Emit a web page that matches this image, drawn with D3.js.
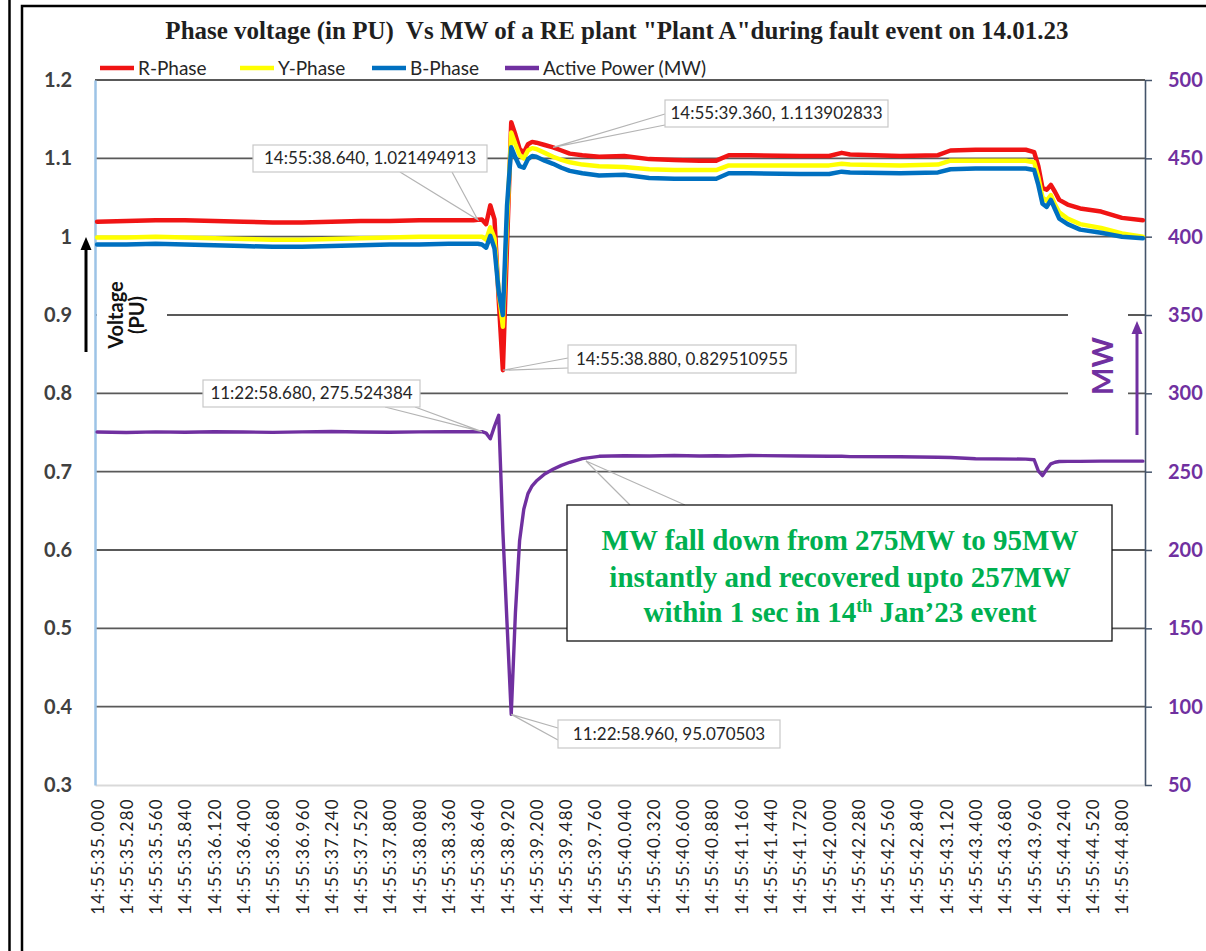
<!DOCTYPE html>
<html>
<head>
<meta charset="utf-8">
<script src="https://cdn.jsdelivr.net/npm/d3@7"></script>
<style>
  body { margin: 0; background: #fff; }
  svg { display: block; }
</style>
</head>
<body>
<svg id="chart" width="1206" height="951"></svg>
<script>
// ---- data: seconds past 14:55:00 and the four recorded traces ----
const timeSec = [35.00, 35.28, 35.56, 35.84, 36.12, 36.40, 36.68, 36.96, 37.24, 37.52, 37.80, 38.08, 38.36, 38.60,
  38.64, 38.68, 38.72, 38.76, 38.80, 38.84, 38.88, 38.92, 38.96, 39.00, 39.04, 39.08, 39.12, 39.16, 39.20, 39.28,
  39.36, 39.44, 39.52, 39.64, 39.80, 40.04, 40.28, 40.52, 40.76, 40.92, 41.04, 41.24, 41.72, 42.00, 42.12, 42.20,
  42.68, 43.04, 43.16, 43.40, 43.88, 43.96, 44.00, 44.04, 44.08, 44.12, 44.16, 44.20, 44.28, 44.40, 44.60, 44.80, 45.00];

const rPhase = [1.019, 1.020, 1.021, 1.021, 1.020, 1.019, 1.018, 1.018, 1.019, 1.020, 1.020, 1.021, 1.021, 1.021,
  1.021494913, 1.022, 1.016, 1.040, 1.022, 0.920, 0.829510955, 0.990, 1.146, 1.130, 1.112, 1.107, 1.118, 1.121, 1.120, 1.117,
  1.113902833, 1.110, 1.106, 1.104, 1.102, 1.103, 1.099, 1.098, 1.097, 1.097, 1.104, 1.104, 1.103, 1.103, 1.107, 1.105,
  1.103, 1.104, 1.110, 1.111, 1.111, 1.108, 1.090, 1.062, 1.060, 1.066, 1.057, 1.047, 1.041, 1.036, 1.032, 1.024, 1.021];

const yPhase = [0.999, 0.999, 1.000, 0.999, 0.998, 0.997, 0.996, 0.996, 0.997, 0.998, 0.999, 1.000, 1.000, 1.000,
  1.000, 1.000, 0.996, 1.012, 0.998, 0.930, 0.885, 1.020, 1.133, 1.118, 1.104, 1.100, 1.110, 1.113, 1.112, 1.107,
  1.102, 1.098, 1.095, 1.092, 1.090, 1.089, 1.086, 1.085, 1.085, 1.085, 1.091, 1.091, 1.091, 1.091, 1.093, 1.092,
  1.091, 1.092, 1.097, 1.097, 1.097, 1.095, 1.076, 1.050, 1.046, 1.053, 1.041, 1.031, 1.023, 1.016, 1.011, 1.004, 1.000];

const bPhase = [0.990, 0.990, 0.991, 0.990, 0.989, 0.988, 0.987, 0.987, 0.988, 0.989, 0.990, 0.990, 0.991, 0.991,
  0.991, 0.990, 0.986, 1.001, 0.985, 0.930, 0.900, 1.040, 1.114, 1.101, 1.090, 1.088, 1.099, 1.103, 1.102, 1.097,
  1.093, 1.088, 1.084, 1.081, 1.078, 1.079, 1.075, 1.074, 1.074, 1.074, 1.081, 1.081, 1.080, 1.080, 1.083, 1.082,
  1.081, 1.082, 1.086, 1.087, 1.087, 1.085, 1.066, 1.042, 1.038, 1.047, 1.035, 1.023, 1.016, 1.009, 1.005, 1.000, 0.998];

const activeMW = [275.3, 275.0, 275.4, 275.2, 275.5, 275.3, 275.1, 275.4, 275.6, 275.3, 275.2, 275.4, 275.5, 275.5,
  275.5, 275.524384, 274.6, 271.0, 279.0, 286.0, 212.0, 153.0, 95.070503, 160.0, 206.0, 226.0, 236.0, 241.0, 244.0, 248.5,
  251.5, 254.0, 256.0, 258.3, 259.8, 260.2, 260.0, 260.3, 260.0, 260.2, 260.0, 260.3, 260.0, 259.8, 259.8, 259.6,
  259.5, 259.2, 259.0, 258.2, 258.0, 257.6, 250.5, 247.5, 251.5, 255.0, 256.0, 256.5, 256.6, 256.6, 256.7, 256.7, 256.7];

const voltTicks = [0.3, 0.4, 0.5, 0.6, 0.7, 0.8, 0.9, 1.0, 1.1, 1.2];
const mwTicks = [50, 100, 150, 200, 250, 300, 350, 400, 450, 500];
const timeLabels = ["14:55:35.000", "14:55:35.280", "14:55:35.560", "14:55:35.840", "14:55:36.120", "14:55:36.400",
  "14:55:36.680", "14:55:36.960", "14:55:37.240", "14:55:37.520", "14:55:37.800", "14:55:38.080", "14:55:38.360",
  "14:55:38.640", "14:55:38.920", "14:55:39.200", "14:55:39.480", "14:55:39.760", "14:55:40.040", "14:55:40.320",
  "14:55:40.600", "14:55:40.880", "14:55:41.160", "14:55:41.440", "14:55:41.720", "14:55:42.000", "14:55:42.280",
  "14:55:42.560", "14:55:42.840", "14:55:43.120", "14:55:43.400", "14:55:43.680", "14:55:43.960", "14:55:44.240",
  "14:55:44.520", "14:55:44.800"];

const seriesNames = ["R-Phase", "Y-Phase", "B-Phase", "Active Power (MW)"];

// value callouts: recorder clock stamp + the traced point they refer to
const calloutClock = ["14:55:38.640", "14:55:39.360", "14:55:38.880", "11:22:58.680", "11:22:58.960"];
const calloutSeries = ["R", "R", "R", "MW", "MW"];
const calloutTime = [38.64, 39.36, 38.88, 38.68, 38.96];

const titleText = "Phase voltage (in PU)  Vs MW of a RE plant \"Plant A\"during fault event on 14.01.23";

// ---- layout ----
const plot = { left: 95, right: 1145, top: 80, bottom: 785 };
const colors = { R: "#F01414", Y: "#FFFF00", B: "#0070C0", MW: "#7030A0" };
const calloutBoxes = [
  { x: 253, y: 145, w: 234, h: 27, base: [[400, 172], [452, 172]] },
  { x: 665, y: 100, w: 223, h: 27, base: [[665, 114], [665, 125]] },
  { x: 568, y: 345, w: 228, h: 28, base: [[568, 358], [568, 368]] },
  { x: 203, y: 380, w: 217, h: 27, base: [[385, 407], [415, 407]] },
  { x: 558, y: 720, w: 222, h: 28, base: [[558, 728], [558, 740]] }
];
const legendX = [100, 240, 372, 505];

const svg = d3.select("#chart");
svg.append("rect").attr("width", 1206).attr("height", 951).attr("fill", "#fff");

const x = d3.scaleLinear().domain([34.98, 45.02]).range([plot.left, plot.right]);
const yV = d3.scaleLinear().domain([0.3, 1.2]).range([plot.bottom, plot.top]);
const yMW = d3.scaleLinear().domain([50, 500]).range([plot.bottom, plot.top]);

// page frame
svg.append("line").attr("x1", 9.5).attr("x2", 9.5).attr("y1", 0).attr("y2", 951)
  .attr("stroke", "#000").attr("stroke-width", 2.5);
svg.append("path").attr("d", "M22,951 V6 H1206").attr("fill", "none")
  .attr("stroke", "#000").attr("stroke-width", 2.5);

// title
svg.append("text").attr("x", 617).attr("y", 39).attr("text-anchor", "middle")
  .style("white-space", "pre")
  .attr("font-family", "'Liberation Serif', 'Times New Roman', serif").attr("font-weight", "bold")
  .attr("font-size", 25).attr("fill", "#1f1f1f").text(titleText);

// legend
const legendColors = [colors.R, colors.Y, colors.B, colors.MW];
seriesNames.forEach((name, i) => {
  const g = svg.append("g").attr("transform", `translate(${legendX[i]},68)`);
  g.append("line").attr("x1", 0).attr("x2", 34).attr("stroke", legendColors[i]).attr("stroke-width", 4.5);
  g.append("text").attr("x", 38).attr("dy", "0.35em").attr("font-family", "Lato, sans-serif")
    .attr("font-size", 19).attr("fill", "#262626").text(name);
});

// horizontal gridlines
svg.append("g").selectAll("line").data(voltTicks.filter(v => v > 0.3)).join("line")
  .attr("x1", plot.left).attr("x2", plot.right)
  .attr("y1", d => yV(d)).attr("y2", d => yV(d))
  .attr("stroke", "#595959").attr("stroke-width", 1.8);

// white panels behind the axis titles
svg.append("rect").attr("x", 97).attr("y", 270).attr("width", 70).attr("height", 90).attr("fill", "#fff");
svg.append("rect").attr("x", 1068).attr("y", 300).attr("width", 60).attr("height", 145).attr("fill", "#fff");

// x axis
const xAxis = svg.append("g").attr("transform", `translate(0,${plot.bottom})`)
  .call(d3.axisBottom(x).tickValues(timeLabels.map(s => +s.slice(6))).tickSize(0)
    .tickFormat((d, i) => timeLabels[i]));
xAxis.select(".domain").attr("stroke", "#d9d9d9").attr("stroke-width", 2);
xAxis.selectAll("text")
  .attr("transform", "rotate(-90)").attr("x", -13).attr("y", 0).attr("dy", "0.35em")
  .attr("text-anchor", "end").attr("font-family", "Lato, sans-serif").attr("font-size", 17)
  .attr("letter-spacing", 1.3).attr("fill", "#1f1f1f");

// left (voltage) axis
const leftAxis = svg.append("g").attr("transform", `translate(${plot.left},0)`)
  .call(d3.axisLeft(yV).tickValues(voltTicks).tickSize(0).tickPadding(23).tickFormat(d3.format("~g")));
leftAxis.select(".domain").attr("stroke", "#9DC3E6").attr("stroke-width", 2.5);
leftAxis.selectAll("text").attr("font-family", "Lato, sans-serif").attr("font-weight", "bold")
  .attr("font-size", 20).attr("fill", "#404040");

// right (MW) axis
const rightAxis = svg.append("g").attr("transform", `translate(${plot.right},0)`)
  .call(d3.axisRight(yMW).tickValues(mwTicks).tickSize(7).tickSizeOuter(0).tickPadding(16));
rightAxis.select(".domain").attr("stroke", "#44546A").attr("stroke-width", 1.6);
rightAxis.selectAll(".tick line").attr("stroke", "#44546A").attr("stroke-width", 1.5);
rightAxis.selectAll("text").attr("font-family", "Lato, sans-serif").attr("font-weight", "bold")
  .attr("font-size", 20).attr("fill", "#7030A0");

// traces
const vLine = d3.line().x((d, i) => x(timeSec[i])).y(d => yV(d));
const mwLine = d3.line().x((d, i) => x(timeSec[i])).y(d => yMW(d));
const traces = [
  { data: rPhase, gen: vLine, color: colors.R, w: 4.5 },
  { data: yPhase, gen: vLine, color: colors.Y, w: 4.5 },
  { data: bPhase, gen: vLine, color: colors.B, w: 4.5 },
  { data: activeMW, gen: mwLine, color: colors.MW, w: 3.4 }
];
traces.forEach(s => {
  svg.append("path").attr("d", s.gen(s.data)).attr("fill", "none")
    .attr("stroke", s.color).attr("stroke-width", s.w)
    .attr("stroke-linejoin", "round").attr("stroke-linecap", "round");
});

// value callouts
const seriesData = { R: rPhase, MW: activeMW };
const seriesScale = { R: yV, MW: yMW };
calloutClock.forEach((clock, i) => {
  const key = calloutSeries[i];
  const idx = timeSec.indexOf(calloutTime[i]);
  const value = seriesData[key][idx];
  const tip = [x(calloutTime[i]), seriesScale[key](value)];
  const box = calloutBoxes[i];
  svg.append("path")
    .attr("d", `M${box.base[0][0]},${box.base[0][1]} L${tip[0]},${tip[1]} L${box.base[1][0]},${box.base[1][1]}`)
    .attr("fill", "none").attr("stroke", "#b4b4b4").attr("stroke-width", 1.2);
  svg.append("rect").attr("x", box.x).attr("y", box.y).attr("width", box.w).attr("height", box.h)
    .attr("fill", "#fff").attr("stroke", "#c8c8c8").attr("stroke-width", 1.2);
  svg.append("text").attr("x", box.x + box.w / 2).attr("y", box.y + box.h / 2).attr("dy", "0.35em")
    .attr("text-anchor", "middle").attr("font-family", "Lato, sans-serif").attr("font-size", 17)
    .attr("fill", "#262626").text(`${clock}, ${value}`);
});

// summary note with its pointer to the recovered MW level
svg.append("path").attr("d", "M630,505 L586,461 L685,505").attr("fill", "none")
  .attr("stroke", "#b4b4b4").attr("stroke-width", 1.2);
svg.append("rect").attr("x", 567).attr("y", 505).attr("width", 545).attr("height", 136)
  .attr("fill", "#fff").attr("stroke", "#111").attr("stroke-width", 1.3);
const note = svg.append("text").attr("text-anchor", "middle")
  .attr("font-family", "'Liberation Serif', 'Times New Roman', serif").attr("font-weight", "bold")
  .attr("font-size", 29).attr("fill", "#00B050");
note.append("tspan").attr("x", 840).attr("y", 550).text("MW fall down from 275MW to 95MW");
note.append("tspan").attr("x", 840).attr("y", 587).text("instantly and recovered upto 257MW");
const l3 = note.append("tspan").attr("x", 840).attr("y", 622);
l3.append("tspan").text("within 1 sec in 14");
l3.append("tspan").attr("font-size", 18).attr("baseline-shift", "super").text("th");
l3.append("tspan").text(" Jan\u201923 event");

// axis titles with arrows
svg.append("text").attr("transform", "translate(123,315) rotate(-90)").attr("text-anchor", "middle")
  .attr("font-family", "Lato, sans-serif").attr("font-weight", "bold").attr("font-size", 20)
  .attr("fill", "#111").text("Voltage");
svg.append("text").attr("transform", "translate(144,315) rotate(-90)").attr("text-anchor", "middle")
  .attr("font-family", "Lato, sans-serif").attr("font-weight", "bold").attr("font-size", 20)
  .attr("fill", "#111").text("(PU)");
svg.append("line").attr("x1", 86).attr("x2", 86).attr("y1", 352).attr("y2", 248)
  .attr("stroke", "#000").attr("stroke-width", 3);
svg.append("path").attr("d", "M86,237 L80.5,250 L91.5,250 Z").attr("fill", "#000");

svg.append("text").attr("transform", "translate(1113,366) rotate(-90)").attr("text-anchor", "middle")
  .attr("font-family", "Lato, sans-serif").attr("font-weight", "bold").attr("font-size", 29)
  .attr("fill", colors.MW).text("MW");
svg.append("line").attr("x1", 1137).attr("x2", 1137).attr("y1", 435).attr("y2", 332)
  .attr("stroke", colors.MW).attr("stroke-width", 3);
svg.append("path").attr("d", "M1137,321 L1131.5,334 L1142.5,334 Z").attr("fill", colors.MW);
</script>
</body>
</html>
